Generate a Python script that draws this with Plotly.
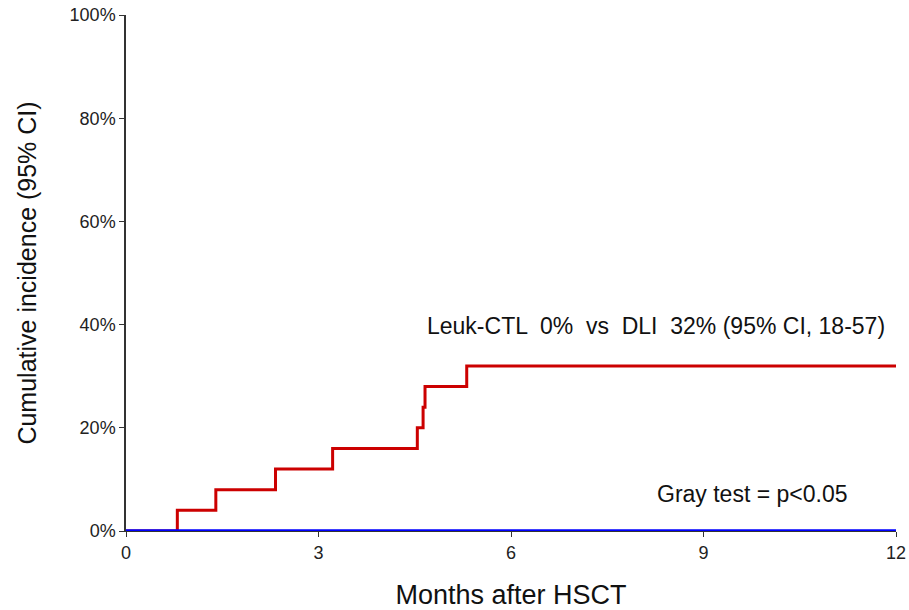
import plotly.graph_objects as go

# DLI group cumulative incidence (step function)
dli_months = [0, 0.80, 1.40, 2.33, 3.22, 4.54, 4.63, 4.66, 5.31, 12]
dli_pct = [0, 4, 8, 12, 16, 20, 24, 28, 32, 32]
# Leuk-CTL group
ctl_months = [0, 12]
ctl_pct = [0, 0]

x_ticks = [0, 3, 6, 9, 12]
y_ticks = [0, 20, 40, 60, 80, 100]
y_tick_labels = [f"{v}%" for v in y_ticks]

font = "Liberation Sans, Arial, sans-serif"

fig = go.Figure()
fig.add_trace(go.Scatter(x=dli_months, y=dli_pct, mode="lines",
                         line=dict(shape="hv", color="#CC0000", width=3), showlegend=False))
fig.add_trace(go.Scatter(x=ctl_months, y=ctl_pct, mode="lines",
                         line=dict(shape="hv", color="#0000FF", width=3.5), showlegend=False))

fig.add_annotation(x=4.66, y=39.7, xref="x", yref="y", xanchor="left", yanchor="middle",
                   text="Leuk-CTL  0%  vs  DLI  32% (95% CI, 18-57)", showarrow=False,
                   font=dict(family=font, size=23, color="#111"))
fig.add_annotation(x=8.24, y=7.2, xref="x", yref="y", xanchor="left", yanchor="middle",
                   text="Gray test = p<0.05", showarrow=False,
                   font=dict(family=font, size=23, color="#111"))

fig.update_layout(
    width=909, height=610,
    margin=dict(l=126, r=13, t=15, b=79),
    plot_bgcolor="white", paper_bgcolor="white",
    font=dict(family=font, color="#222"),
    xaxis=dict(range=[0, 12], tickvals=x_ticks, ticks="outside", ticklen=5, tickcolor="#333",
               showline=True, linecolor="#333", linewidth=1, showgrid=False, zeroline=False,
               automargin=False, tickfont=dict(size=18, color="#222"),
               title=dict(text="Months after HSCT", font=dict(size=27, color="#111"), standoff=26)),
    yaxis=dict(range=[0, 100], tickvals=y_ticks, ticktext=y_tick_labels, ticks="outside", ticklen=5,
               tickcolor="#333", showline=True, linecolor="#333", linewidth=1.5, showgrid=False,
               zeroline=False, automargin=False, tickfont=dict(size=18, color="#222"),
               title=dict(text="Cumulative incidence (95% CI)", font=dict(size=25, color="#111"), standoff=26)),
)

fig.write_html("out.html")
